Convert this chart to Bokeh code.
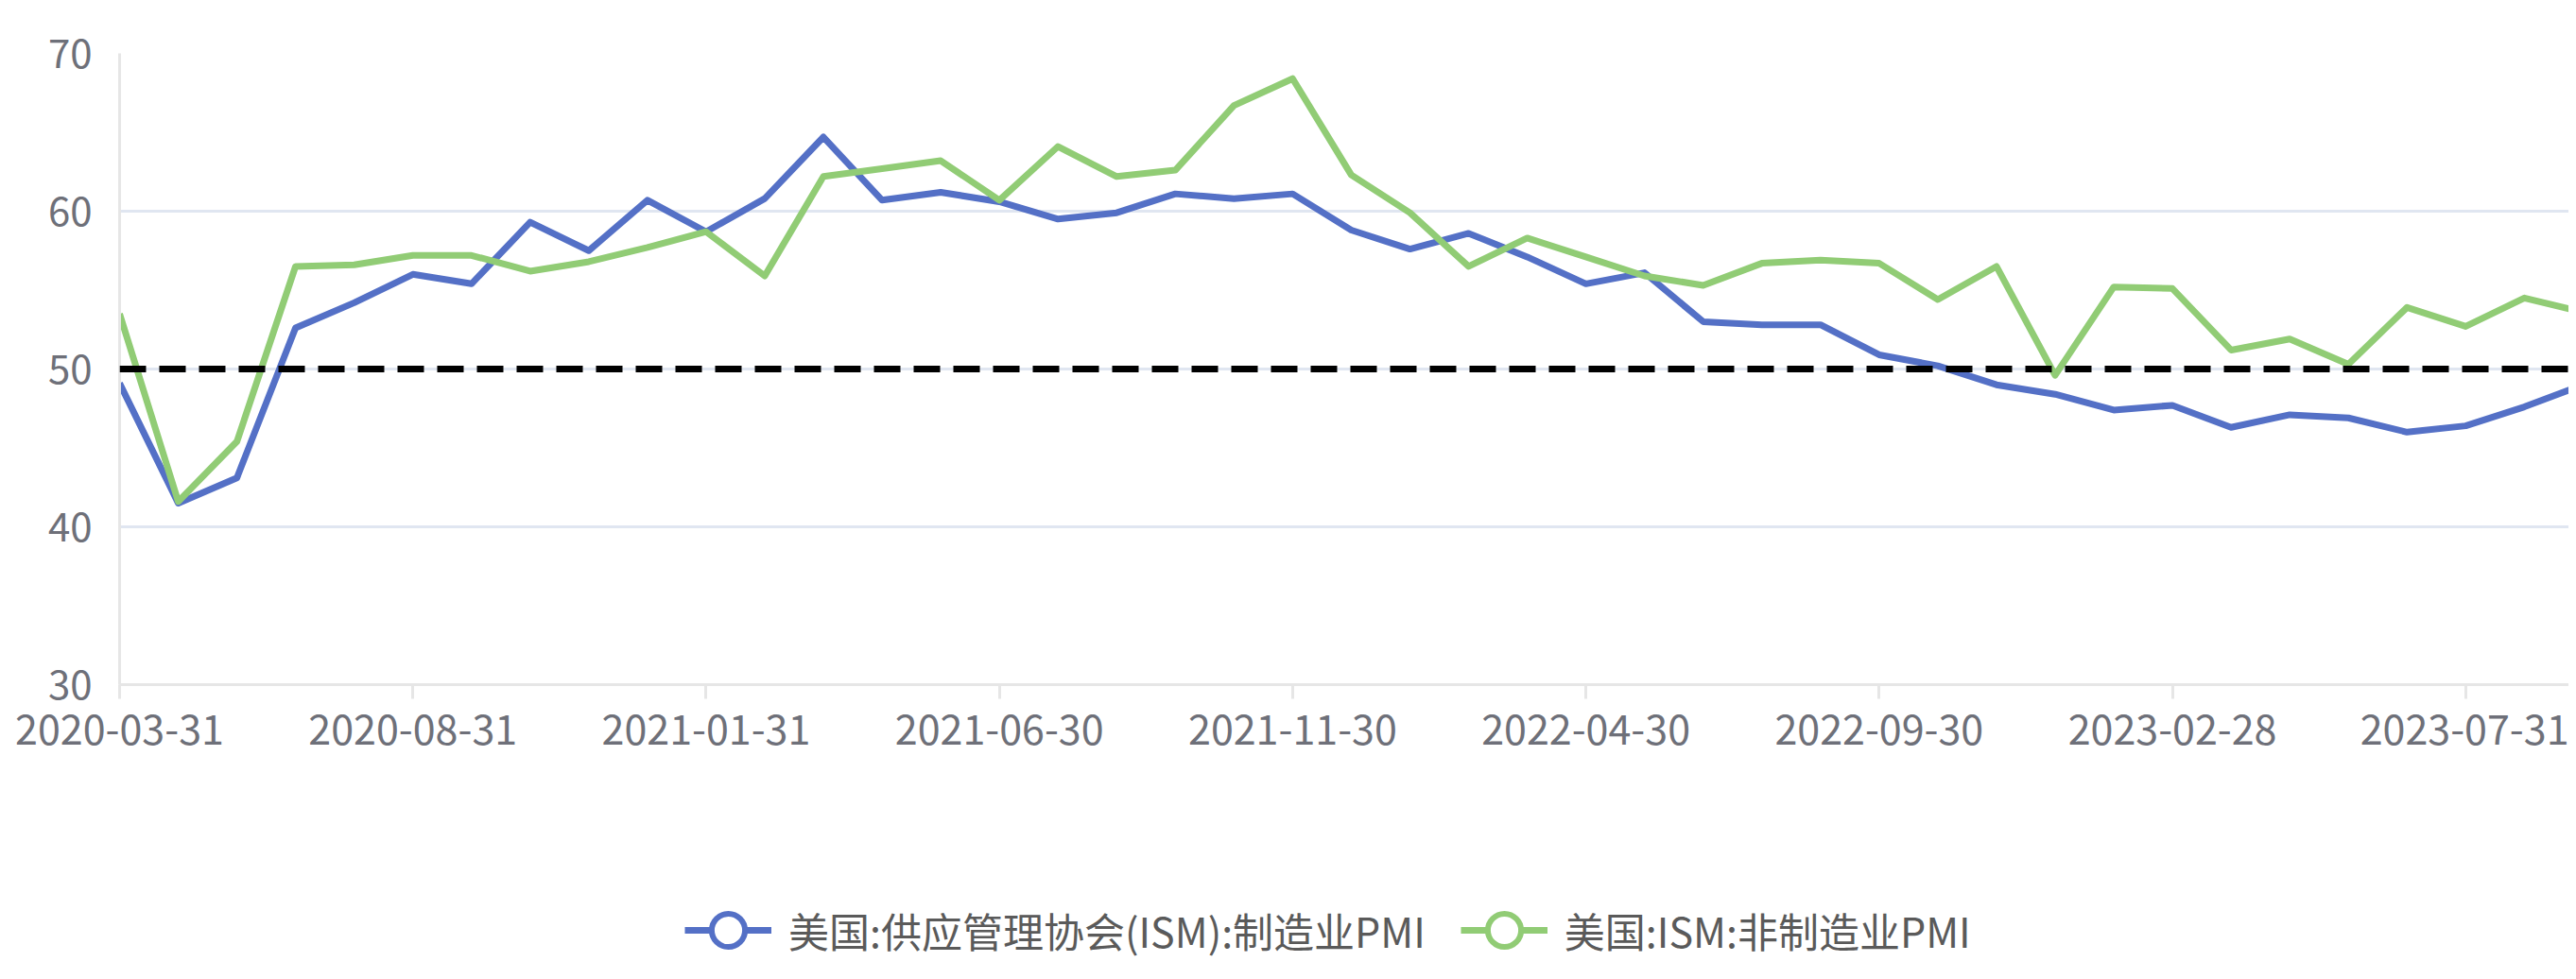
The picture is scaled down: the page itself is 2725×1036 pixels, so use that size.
from bokeh.plotting import figure
from bokeh.layouts import column
from bokeh.models import (Range1d, FixedTicker, Span, Legend, LegendItem,
                          ColumnDataSource)
from bokeh.embed import file_html
from bokeh.resources import INLINE

dates = [
    "2020-03-31", "2020-04-30", "2020-05-31", "2020-06-30", "2020-07-31", "2020-08-31",
    "2020-09-30", "2020-10-31", "2020-11-30", "2020-12-31", "2021-01-31", "2021-02-28",
    "2021-03-31", "2021-04-30", "2021-05-31", "2021-06-30", "2021-07-31", "2021-08-31",
    "2021-09-30", "2021-10-31", "2021-11-30", "2021-12-31", "2022-01-31", "2022-02-28",
    "2022-03-31", "2022-04-30", "2022-05-31", "2022-06-30", "2022-07-31", "2022-08-31",
    "2022-09-30", "2022-10-31", "2022-11-30", "2022-12-31", "2023-01-31", "2023-02-28",
    "2023-03-31", "2023-04-30", "2023-05-31", "2023-06-30", "2023-07-31", "2023-08-31",
    "2023-09-30",
]
ism_manufacturing = [
    49.1, 41.5, 43.1, 52.6, 54.2, 56.0, 55.4, 59.3, 57.5, 60.7,
    58.7, 60.8, 64.7, 60.7, 61.2, 60.6, 59.5, 59.9, 61.1, 60.8,
    61.1, 58.8, 57.6, 58.6, 57.1, 55.4, 56.1, 53.0, 52.8, 52.8,
    50.9, 50.2, 49.0, 48.4, 47.4, 47.7, 46.3, 47.1, 46.9, 46.0,
    46.4, 47.6, 49.0,
]
ism_non_manufacturing = [
    53.5, 41.6, 45.4, 56.5, 56.6, 57.2, 57.2, 56.2, 56.8, 57.7,
    58.7, 55.9, 62.2, 62.7, 63.2, 60.7, 64.1, 62.2, 62.6, 66.7,
    68.4, 62.3, 59.9, 56.5, 58.3, 57.1, 55.9, 55.3, 56.7, 56.9,
    56.7, 54.4, 56.5, 49.6, 55.2, 55.1, 51.2, 51.9, 50.3, 53.9,
    52.7, 54.5, 53.6,
]
series_names = ["美国:供应管理协会(ISM):制造业PMI", "美国:ISM:非制造业PMI"]
threshold = 50
y_ticks = [30, 40, 50, 60, 70]
label_step = 5

FONT = "Noto Sans CJK SC"
BLUE = "#5470C6"
GREEN = "#91CC75"
AXIS_GRAY = "#E6E6E6"
GRID = "#E0E6F1"
LABEL = "#6E7079"

idx = list(range(len(dates)))
src = ColumnDataSource(data=dict(x=idx, m=ism_manufacturing, s=ism_non_manufacturing))

# ---------------- main chart ----------------
p = figure(width=2717, height=820,
           x_range=Range1d(0, 41.76), y_range=Range1d(30, 70),
           output_backend="svg", toolbar_location=None,
           min_border_left=126, min_border_top=56, min_border_right=0,
           min_border_bottom=96)
p.outline_line_color = None
p.background_fill_color = "white"
p.border_fill_color = "white"

tick_pos = list(range(0, len(dates), label_step))
p.xaxis.ticker = FixedTicker(ticks=tick_pos)
p.xaxis.major_label_overrides = {i: dates[i] for i in tick_pos}
p.xaxis.axis_line_color = AXIS_GRAY
p.xaxis.axis_line_width = 3
p.xaxis.major_tick_line_color = AXIS_GRAY
p.xaxis.major_tick_line_width = 3
p.xaxis.major_tick_out = 15
p.xaxis.major_tick_in = 0
p.xaxis.minor_tick_line_color = None
p.xaxis.major_label_standoff = 16
p.xaxis.major_label_text_font = FONT
p.xaxis.major_label_text_font_size = "43px"
p.xaxis.major_label_text_color = LABEL

p.yaxis.ticker = FixedTicker(ticks=y_ticks)
p.yaxis.axis_line_color = AXIS_GRAY
p.yaxis.axis_line_width = 3
p.yaxis.major_tick_line_color = None
p.yaxis.major_tick_out = 0
p.yaxis.major_tick_in = 0
p.yaxis.minor_tick_line_color = None
p.yaxis.major_label_standoff = 29
p.yaxis.major_label_text_font = FONT
p.yaxis.major_label_text_font_size = "42px"
p.yaxis.major_label_text_color = LABEL

p.xgrid.grid_line_color = None
p.ygrid.grid_line_color = GRID
p.ygrid.grid_line_width = 3

p.line("x", "m", source=src, line_color=BLUE, line_width=7, line_join="round")
p.line("x", "s", source=src, line_color=GREEN, line_width=7, line_join="round")

p.add_layout(Span(location=threshold, dimension="width", line_color="black",
                  line_width=7, line_dash="28 14"))

# ---------------- legend strip ----------------
# the series' own data lie far outside this strip's ranges, so only the
# legend swatches are visible here
lg = figure(width=2717, height=208, x_range=Range1d(0, 1), y_range=Range1d(0, 1),
            output_backend="svg", toolbar_location=None,
            x_axis_type=None, y_axis_type=None,
            min_border_left=0, min_border_right=0, min_border_top=0,
            min_border_bottom=0)
lg.outline_line_color = None
lg.grid.grid_line_color = None
lg.background_fill_color = "white"
lg.border_fill_color = "white"

items = []
for name, col, color in [(series_names[0], "m", BLUE), (series_names[1], "s", GREEN)]:
    ln = lg.line("x", col, source=src, line_color=color, line_width=7)
    ring = lg.scatter("x", col, source=src, marker="circle",
                      fill_color="white", line_color=color, line_width=6)
    items.append(LegendItem(label=name, renderers=[ln, ring]))

legend = Legend(items=items, orientation="horizontal", location=(598, 0),
                glyph_width=92, glyph_height=88, label_standoff=18, spacing=37,
                padding=0, margin=0, border_line_color=None,
                background_fill_alpha=0,
                label_text_font=FONT, label_text_font_size="43px",
                label_text_color="#5a5a5a")
lg.add_layout(legend)

open("out.html", "w").write(file_html(column(p, lg), INLINE))
